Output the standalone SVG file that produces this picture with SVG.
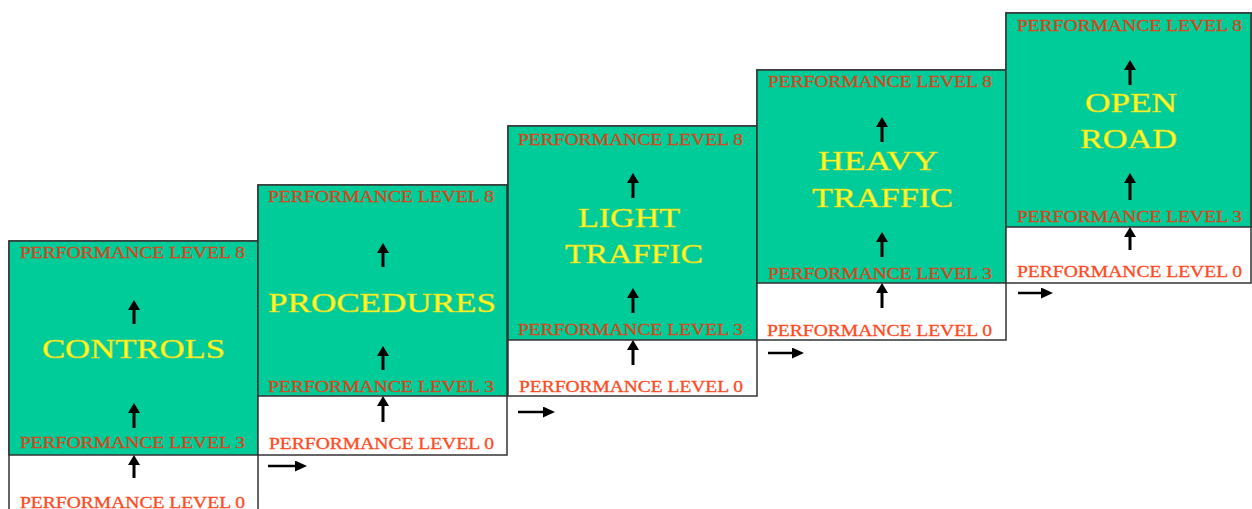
<svg xmlns="http://www.w3.org/2000/svg" width="1252" height="509" viewBox="0 0 1252 509">
<style>
.grn{fill:#00CC99;stroke:#333;stroke-width:1.5}
.box{fill:#fff;stroke:#333;stroke-width:1.5}
.lvg{font-family:"Liberation Serif",serif;font-size:16px;fill:#D9461A;stroke:#D9461A;stroke-width:0.3}
.lvw{font-family:"Liberation Serif",serif;font-size:16px;fill:#FF4A1E;stroke:#FF4A1E;stroke-width:0.3}
.ttl{font-family:"Liberation Serif",serif;font-size:28px;fill:#FFFF22;stroke:#D8D830;stroke-width:0.6}
.va{stroke:#000;stroke-width:3;fill:none;marker-end:url(#ah)}
.ha{stroke:#000;stroke-width:2.5;fill:none;marker-end:url(#ahh)}
</style>
<defs>
<marker id="ah" viewBox="0 0 10 12" markerUnits="userSpaceOnUse" markerWidth="10" markerHeight="12" refX="5" refY="6" orient="auto"><path d="M0,0 L10,6 L0,12 z" fill="#000"/></marker>
<marker id="ahh" viewBox="0 0 12 11" markerUnits="userSpaceOnUse" markerWidth="12" markerHeight="11" refX="6" refY="5.5" orient="auto"><path d="M0,0 L12,5.5 L0,11 z" fill="#000"/></marker>
</defs>
<rect x="0" y="0" width="1252" height="509" fill="#fff"/>

<g id="controls">
<rect class="box" x="9" y="241" width="249" height="280"/>
<rect class="grn" x="9" y="241" width="249" height="214"/>
<text class="lvg" x="20" y="258" textLength="225" lengthAdjust="spacingAndGlyphs">PERFORMANCE LEVEL 8</text>
<text class="ttl" x="42" y="358" textLength="183" lengthAdjust="spacingAndGlyphs">CONTROLS</text>
<text class="lvg" x="20" y="448" textLength="225" lengthAdjust="spacingAndGlyphs">PERFORMANCE LEVEL 3</text>
<text class="lvw" x="20" y="508" textLength="225" lengthAdjust="spacingAndGlyphs">PERFORMANCE LEVEL 0</text>
</g>

<g id="procedures">
<rect class="box" x="258" y="185" width="249" height="270"/>
<rect class="grn" x="258" y="185" width="249" height="211"/>
<text class="lvg" x="268" y="202" textLength="226" lengthAdjust="spacingAndGlyphs">PERFORMANCE LEVEL 8</text>
<text class="ttl" x="268" y="312" textLength="228" lengthAdjust="spacingAndGlyphs">PROCEDURES</text>
<text class="lvg" x="268" y="392" textLength="226" lengthAdjust="spacingAndGlyphs">PERFORMANCE LEVEL 3</text>
<text class="lvw" x="269" y="449" textLength="225" lengthAdjust="spacingAndGlyphs">PERFORMANCE LEVEL 0</text>
</g>

<g id="light-traffic">
<rect class="box" x="508" y="126" width="249" height="270"/>
<rect class="grn" x="508" y="126" width="249" height="214"/>
<text class="lvg" x="518" y="145" textLength="225" lengthAdjust="spacingAndGlyphs">PERFORMANCE LEVEL 8</text>
<text class="ttl" x="578" y="227" textLength="102" lengthAdjust="spacingAndGlyphs">LIGHT</text>
<text class="ttl" x="565" y="263" textLength="138" lengthAdjust="spacingAndGlyphs">TRAFFIC</text>
<text class="lvg" x="518" y="335" textLength="225" lengthAdjust="spacingAndGlyphs">PERFORMANCE LEVEL 3</text>
<text class="lvw" x="519" y="392" textLength="224" lengthAdjust="spacingAndGlyphs">PERFORMANCE LEVEL 0</text>
</g>

<g id="heavy-traffic">
<rect class="box" x="757" y="70" width="249" height="270"/>
<rect class="grn" x="757" y="70" width="249" height="213"/>
<text class="lvg" x="768" y="87" textLength="224" lengthAdjust="spacingAndGlyphs">PERFORMANCE LEVEL 8</text>
<text class="ttl" x="818" y="170" textLength="120" lengthAdjust="spacingAndGlyphs">HEAVY</text>
<text class="ttl" x="812" y="207" textLength="141" lengthAdjust="spacingAndGlyphs">TRAFFIC</text>
<text class="lvg" x="768" y="279" textLength="224" lengthAdjust="spacingAndGlyphs">PERFORMANCE LEVEL 3</text>
<text class="lvw" x="767" y="336" textLength="225" lengthAdjust="spacingAndGlyphs">PERFORMANCE LEVEL 0</text>
</g>

<g id="open-road">
<rect class="box" x="1006" y="13" width="245" height="270"/>
<rect class="grn" x="1006" y="13" width="245" height="214"/>
<text class="lvg" x="1017" y="31" textLength="225" lengthAdjust="spacingAndGlyphs">PERFORMANCE LEVEL 8</text>
<text class="ttl" x="1085" y="112" textLength="92" lengthAdjust="spacingAndGlyphs">OPEN</text>
<text class="ttl" x="1080" y="148" textLength="97" lengthAdjust="spacingAndGlyphs">ROAD</text>
<text class="lvg" x="1017" y="222" textLength="225" lengthAdjust="spacingAndGlyphs">PERFORMANCE LEVEL 3</text>
<text class="lvw" x="1017" y="277" textLength="225" lengthAdjust="spacingAndGlyphs">PERFORMANCE LEVEL 0</text>
</g>

<g id="connectors">
<line class="va" x1="134" y1="324" x2="134" y2="305"/>
<line class="va" x1="134" y1="428" x2="134" y2="408"/>
<line class="va" x1="134" y1="478" x2="134" y2="460"/>
<line class="va" x1="383" y1="267" x2="383" y2="248"/>
<line class="va" x1="383" y1="370" x2="383" y2="351"/>
<line class="va" x1="383" y1="422" x2="383" y2="401"/>
<line class="va" x1="633" y1="198" x2="633" y2="178"/>
<line class="va" x1="633" y1="313" x2="633" y2="293"/>
<line class="va" x1="633" y1="365" x2="633" y2="345"/>
<line class="va" x1="882" y1="142" x2="882" y2="122"/>
<line class="va" x1="882" y1="257" x2="882" y2="237"/>
<line class="va" x1="882" y1="308" x2="882" y2="288"/>
<line class="va" x1="1130" y1="85" x2="1130" y2="65"/>
<line class="va" x1="1130" y1="200" x2="1130" y2="178"/>
<line class="va" x1="1130" y1="250" x2="1130" y2="232"/>
<line class="ha" x1="268" y1="466" x2="301" y2="466"/>
<line class="ha" x1="518" y1="412" x2="549" y2="412"/>
<line class="ha" x1="768" y1="353" x2="798" y2="353"/>
<line class="ha" x1="1018" y1="293" x2="1047" y2="293"/>
</g>
</svg>
